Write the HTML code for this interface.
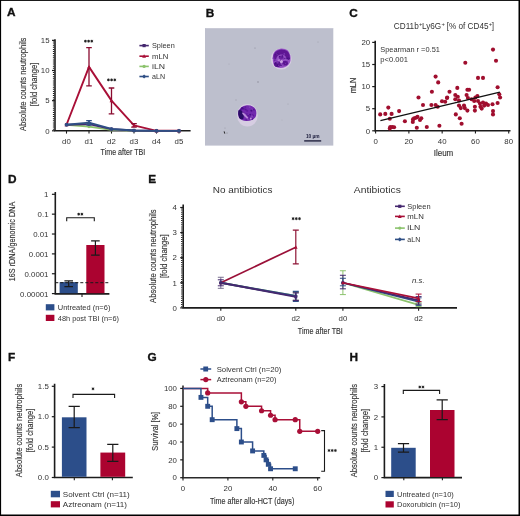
<!DOCTYPE html>
<html><head><meta charset="utf-8"><style>
html,body{margin:0;padding:0;background:#fff;}
svg{display:block;font-family:"Liberation Sans", sans-serif;filter:blur(0.3px);}
</style></head><body>
<svg width="520" height="516" viewBox="0 0 520 516">
<defs><filter id="cb" x="-20%" y="-20%" width="140%" height="140%"><feGaussianBlur stdDeviation="0.55"/></filter></defs>
<rect width="520" height="516" fill="#fff"/>
<text x="7" y="16" font-size="11.8" fill="#111" font-weight="bold" stroke="#111" stroke-width="0.35">A</text>
<line x1="53.55" y1="40.5" x2="53.55" y2="130.8" stroke="#1c1c1c" stroke-width="1.3" stroke-dasharray="1 1.1"/>
<path d="M55,39.3V130.8H190.6" stroke="#1c1c1c" stroke-width="1.6" fill="none" />
<line x1="52" y1="130.8" x2="55" y2="130.8" stroke="#1c1c1c" stroke-width="1.2" />
<text x="49.6" y="133.5" font-size="7.7" fill="#333333" text-anchor="end" textLength="4.37" lengthAdjust="spacingAndGlyphs">0</text>
<line x1="52" y1="100.65" x2="55" y2="100.65" stroke="#1c1c1c" stroke-width="1.2" />
<text x="49.6" y="103.35" font-size="7.7" fill="#333333" text-anchor="end" textLength="4.37" lengthAdjust="spacingAndGlyphs">5</text>
<line x1="52" y1="70.5" x2="55" y2="70.5" stroke="#1c1c1c" stroke-width="1.2" />
<text x="49.6" y="73.2" font-size="7.7" fill="#333333" text-anchor="end" textLength="8.74" lengthAdjust="spacingAndGlyphs">10</text>
<line x1="52" y1="40.35" x2="55" y2="40.35" stroke="#1c1c1c" stroke-width="1.2" />
<text x="49.6" y="43.05" font-size="7.7" fill="#333333" text-anchor="end" textLength="8.74" lengthAdjust="spacingAndGlyphs">15</text>
<line x1="66.5" y1="130.8" x2="66.5" y2="133.6" stroke="#1c1c1c" stroke-width="1.1" />
<text x="66.5" y="143.6" font-size="7.7" fill="#333333" text-anchor="middle" textLength="8.74" lengthAdjust="spacingAndGlyphs">d0</text>
<line x1="89" y1="130.8" x2="89" y2="133.6" stroke="#1c1c1c" stroke-width="1.1" />
<text x="89" y="143.6" font-size="7.7" fill="#333333" text-anchor="middle" textLength="8.74" lengthAdjust="spacingAndGlyphs">d1</text>
<line x1="111.5" y1="130.8" x2="111.5" y2="133.6" stroke="#1c1c1c" stroke-width="1.1" />
<text x="111.5" y="143.6" font-size="7.7" fill="#333333" text-anchor="middle" textLength="8.74" lengthAdjust="spacingAndGlyphs">d2</text>
<line x1="134" y1="130.8" x2="134" y2="133.6" stroke="#1c1c1c" stroke-width="1.1" />
<text x="134" y="143.6" font-size="7.7" fill="#333333" text-anchor="middle" textLength="8.74" lengthAdjust="spacingAndGlyphs">d3</text>
<line x1="156.5" y1="130.8" x2="156.5" y2="133.6" stroke="#1c1c1c" stroke-width="1.1" />
<text x="156.5" y="143.6" font-size="7.7" fill="#333333" text-anchor="middle" textLength="8.74" lengthAdjust="spacingAndGlyphs">d4</text>
<line x1="179" y1="130.8" x2="179" y2="133.6" stroke="#1c1c1c" stroke-width="1.1" />
<text x="179" y="143.6" font-size="7.7" fill="#333333" text-anchor="middle" textLength="8.74" lengthAdjust="spacingAndGlyphs">d5</text>
<text x="122.9" y="155.1" font-size="9.4" fill="#333333" text-anchor="middle" textLength="44.6" lengthAdjust="spacingAndGlyphs" stroke="#333333" stroke-width="0.15">Time after TBI</text>
<text transform="translate(25.8,84.3) rotate(-90)" font-size="9" fill="#333333" text-anchor="middle" textLength="93.4" lengthAdjust="spacingAndGlyphs" stroke="#333333" stroke-width="0.15">Absolute counts neutrophils</text>
<text transform="translate(36.6,84.4) rotate(-90)" font-size="9" fill="#333333" text-anchor="middle" textLength="43.6" lengthAdjust="spacingAndGlyphs" stroke="#333333" stroke-width="0.15">[fold change]</text>
<polyline points="66.5,124.77 89,66.88 111.5,100.65 134,125.37 156.5,130.8 179,130.8" fill="none" stroke="#a90f37" stroke-width="1.9" stroke-linejoin="round"/>
<path d="M86.2,47.59H91.8M89,47.59V85.88M86.2,85.88H91.8" stroke="#8a0c30" stroke-width="1.3" fill="none" />
<path d="M108.7,87.99H114.3M111.5,87.99V113.92M108.7,113.92H114.3" stroke="#8a0c30" stroke-width="1.3" fill="none" />
<path d="M131.2,123.56H136.8M134,123.56V127.18M131.2,127.18H136.8" stroke="#8a0c30" stroke-width="1.3" fill="none" />
<path d="M66.5,122.85L68.42,126.37L64.58,126.37Z" fill="#a90f37"/>
<path d="M89,64.96L90.92,68.48L87.08,68.48Z" fill="#a90f37"/>
<path d="M111.5,98.73L113.42,102.25L109.58,102.25Z" fill="#a90f37"/>
<path d="M134,123.45L135.92,126.97L132.08,126.97Z" fill="#a90f37"/>
<path d="M156.5,128.88L158.42,132.4L154.58,132.4Z" fill="#a90f37"/>
<path d="M179,128.88L180.92,132.4L177.08,132.4Z" fill="#a90f37"/>
<polyline points="66.5,124.77 89,126.58 111.5,129.9 134,130.62 156.5,130.8 179,130.8" fill="none" stroke="#8cc36d" stroke-width="1.8" stroke-linejoin="round"/>
<circle cx="66.5" cy="124.77" r="1.6" fill="#8cc36d" />
<circle cx="89" cy="126.58" r="1.6" fill="#8cc36d" />
<circle cx="111.5" cy="129.9" r="1.6" fill="#8cc36d" />
<circle cx="134" cy="130.62" r="1.6" fill="#8cc36d" />
<circle cx="156.5" cy="130.8" r="1.6" fill="#8cc36d" />
<circle cx="179" cy="130.8" r="1.6" fill="#8cc36d" />
<polyline points="66.5,124.77 89,124.17 111.5,129.11 134,130.5 156.5,130.8 179,130.8" fill="none" stroke="#45286f" stroke-width="1.8" stroke-linejoin="round"/>
<rect x="64.9" y="123.17" width="3.2" height="3.2" fill="#45286f" />
<rect x="87.4" y="122.57" width="3.2" height="3.2" fill="#45286f" />
<rect x="109.9" y="127.51" width="3.2" height="3.2" fill="#45286f" />
<rect x="132.4" y="128.9" width="3.2" height="3.2" fill="#45286f" />
<rect x="154.9" y="129.2" width="3.2" height="3.2" fill="#45286f" />
<rect x="177.4" y="129.2" width="3.2" height="3.2" fill="#45286f" />
<polyline points="66.5,124.77 89,122.66 111.5,128.99 134,130.5 156.5,130.8 179,130.8" fill="none" stroke="#2f4f85" stroke-width="1.8" stroke-linejoin="round"/>
<path d="M86.2,120.67H91.8M89,120.67V124.77M86.2,124.77H91.8" stroke="#2f4f85" stroke-width="1.3" fill="none" />
<path d="M66.5,122.69L68.58,124.77L66.5,126.85L64.42,124.77Z" fill="#2f4f85"/>
<path d="M89,120.58L91.08,122.66L89,124.74L86.92,122.66Z" fill="#2f4f85"/>
<path d="M111.5,126.91L113.58,128.99L111.5,131.07L109.42,128.99Z" fill="#2f4f85"/>
<path d="M134,128.42L136.08,130.5L134,132.58L131.92,130.5Z" fill="#2f4f85"/>
<path d="M156.5,128.72L158.58,130.8L156.5,132.88L154.42,130.8Z" fill="#2f4f85"/>
<path d="M179,128.72L181.08,130.8L179,132.88L176.92,130.8Z" fill="#2f4f85"/>
<path d="M85.4,39.64L85.4,42.76M86.75,40.42L84.05,41.98M86.75,41.98L84.05,40.42" stroke="#222" stroke-width="0.55" fill="none" />
<circle cx="85.4" cy="41.2" r="1.1" fill="#222" />
<path d="M88.6,39.64L88.6,42.76M89.95,40.42L87.25,41.98M89.95,41.98L87.25,40.42" stroke="#222" stroke-width="0.55" fill="none" />
<circle cx="88.6" cy="41.2" r="1.1" fill="#222" />
<path d="M91.8,39.64L91.8,42.76M93.15,40.42L90.45,41.98M93.15,41.98L90.45,40.42" stroke="#222" stroke-width="0.55" fill="none" />
<circle cx="91.8" cy="41.2" r="1.1" fill="#222" />
<path d="M108.4,78.34L108.4,81.46M109.75,79.12L107.05,80.68M109.75,80.68L107.05,79.12" stroke="#222" stroke-width="0.55" fill="none" />
<circle cx="108.4" cy="79.9" r="1.1" fill="#222" />
<path d="M111.6,78.34L111.6,81.46M112.95,79.12L110.25,80.68M112.95,80.68L110.25,79.12" stroke="#222" stroke-width="0.55" fill="none" />
<circle cx="111.6" cy="79.9" r="1.1" fill="#222" />
<path d="M114.8,78.34L114.8,81.46M116.15,79.12L113.45,80.68M116.15,80.68L113.45,79.12" stroke="#222" stroke-width="0.55" fill="none" />
<circle cx="114.8" cy="79.9" r="1.1" fill="#222" />
<line x1="139.4" y1="45.6" x2="148.8" y2="45.6" stroke="#45286f" stroke-width="1.6" />
<rect x="142.5" y="44" width="3.2" height="3.2" fill="#45286f" />
<text x="152" y="47.9" font-size="7.9" fill="#333333" textLength="22.7" lengthAdjust="spacingAndGlyphs">Spleen</text>
<line x1="139.4" y1="56.2" x2="148.8" y2="56.2" stroke="#a90f37" stroke-width="1.6" />
<path d="M144.1,54.28L146.02,57.8L142.18,57.8Z" fill="#a90f37"/>
<text x="152" y="58.5" font-size="7.9" fill="#333333" textLength="16.3" lengthAdjust="spacingAndGlyphs">mLN</text>
<line x1="139.4" y1="66.4" x2="148.8" y2="66.4" stroke="#8cc36d" stroke-width="1.6" />
<circle cx="144.1" cy="66.4" r="1.6" fill="#8cc36d" />
<text x="152" y="68.7" font-size="7.9" fill="#333333" textLength="13" lengthAdjust="spacingAndGlyphs">iLN</text>
<line x1="139.4" y1="76.5" x2="148.8" y2="76.5" stroke="#2f4f85" stroke-width="1.6" />
<path d="M144.1,74.42L146.18,76.5L144.1,78.58L142.02,76.5Z" fill="#2f4f85"/>
<text x="152" y="78.8" font-size="7.9" fill="#333333" textLength="13" lengthAdjust="spacingAndGlyphs">aLN</text>
<text x="205.8" y="16.7" font-size="11.8" fill="#111" font-weight="bold" stroke="#111" stroke-width="0.35">B</text>
<rect x="205" y="28" width="128.3" height="117.6" fill="#bdbfcd" />
<line x1="205.5" y1="28.5" x2="333" y2="28.5" stroke="#c9cad6" stroke-width="1" />
<circle cx="255" cy="48" r="0.6" fill="#8a8a99" />
<circle cx="258" cy="82" r="0.8" fill="#8f8f9e" />
<circle cx="225" cy="128" r="0.6" fill="#9999a8" />
<circle cx="318" cy="42" r="0.5" fill="#9a9aa8" />
<circle cx="288" cy="104" r="0.5" fill="#a0a0ae" />
<circle cx="236" cy="100" r="0.7" fill="#a4a4b2" />
<circle cx="282" cy="120" r="0.6" fill="#b0b0bc" />
<circle cx="229" cy="64" r="0.6" fill="#a8a8b6" />
<path d="M223.6,131.5 l0.9,-0.3 l0.8,2.2 l-0.9,0.4z" fill="#222"/>
<circle cx="227" cy="133" r="0.45" fill="#555" />
<g filter="url(#cb)">
<ellipse cx="281.2" cy="59.0" rx="10.4" ry="10.6" fill="#d8cce4"/>
<path d="M272.8,57 q0.4,-7.4 8.2,-8.4 q8,-0.4 9.4,7 q1,5.6 -1.8,9 q-3,3.4 -7.8,3.4 q-5.4,0 -7.4,-4 q-0.8,-3 -0.6,-7z" fill="#9552c4"/>
<path d="M273.2,58.2 q-0.2,-7.6 7.8,-8.8 q7.6,-0.4 8.8,6.4 q0.4,2.6 -1,3.6 q-1.6,0.2 -2.6,-1.8 q-1.6,-3.4 -5.4,-3 q-3.8,0.6 -4.4,4 q-0.6,1.8 -1.8,1.2z" fill="#5e1994"/>
<ellipse cx="281.2" cy="57.6" rx="2.4" ry="2.0" fill="#6a22a0"/>
<ellipse cx="277.4" cy="64.2" rx="3.3" ry="2.8" fill="#5a1790"/>
<ellipse cx="285.2" cy="63.2" rx="2.8" ry="2.4" fill="#5c1892"/>
<circle cx="275.62" cy="60.32" r="1.05" fill="#7a34b0" />
<circle cx="274.32" cy="60.75" r="0.61" fill="#501388" />
<circle cx="275.16" cy="59.53" r="0.61" fill="#7a34b0" />
<circle cx="280.43" cy="60.82" r="0.99" fill="#501388" />
<circle cx="277.2" cy="54.1" r="0.74" fill="#7a34b0" />
<circle cx="277.73" cy="53.56" r="0.59" fill="#4a0f84" />
<circle cx="282.16" cy="56.89" r="0.52" fill="#4a0f84" />
<circle cx="275.62" cy="54.57" r="0.7" fill="#501388" />
<circle cx="284.28" cy="53.9" r="0.88" fill="#7a34b0" />
<circle cx="283.47" cy="58.67" r="0.89" fill="#7a34b0" />
<circle cx="288.98" cy="58.49" r="1" fill="#501388" />
<circle cx="281.03" cy="65.39" r="0.81" fill="#4a0f84" />
<circle cx="287.37" cy="61.52" r="0.74" fill="#7a34b0" />
<circle cx="275.43" cy="63.59" r="1.01" fill="#4a0f84" />
<circle cx="282.91" cy="65.91" r="0.53" fill="#7a34b0" />
<circle cx="286.08" cy="57.99" r="0.54" fill="#501388" />
<circle cx="283.24" cy="64.68" r="0.7" fill="#7a34b0" />
<circle cx="277.4" cy="65.25" r="0.95" fill="#4a0f84" />
<circle cx="285.55" cy="63.51" r="0.51" fill="#7a34b0" />
<circle cx="282.16" cy="55.45" r="0.84" fill="#7a34b0" />
<circle cx="273.47" cy="58.17" r="0.96" fill="#7a34b0" />
<circle cx="279.55" cy="56.51" r="0.75" fill="#4a0f84" />
<circle cx="288.45" cy="58.62" r="1.08" fill="#501388" />
<circle cx="278.75" cy="65.52" r="0.63" fill="#7a34b0" />
<circle cx="287.25" cy="58.44" r="0.85" fill="#4a0f84" />
<circle cx="284.79" cy="58.36" r="0.65" fill="#501388" />
<circle cx="279.18" cy="62.33" r="0.54" fill="#4a0f84" />
<circle cx="282.8" cy="64.62" r="0.51" fill="#7a34b0" />
<circle cx="277.56" cy="62.39" r="1.08" fill="#7a34b0" />
<circle cx="282.62" cy="56.1" r="0.73" fill="#501388" />
<circle cx="281.4" cy="61.6" r="1.5" fill="#c9a0e0" />
<circle cx="279" cy="60.2" r="0.9" fill="#b683d6" />
<ellipse cx="247.4" cy="115.2" rx="10.4" ry="11.3" fill="#d6cde2"/>
<path d="M238.2,112.6 q1.4,-6.8 8.6,-7.4 q6.4,-0.4 9,4.6 q1.4,4.4 -0.6,7.8 q-3,3.6 -8.6,3.4 q-5.6,-0.4 -7.6,-3.6 q-1.2,-2.2 -0.8,-4.8z" fill="#7229ae"/>
<circle cx="252.07" cy="118.77" r="1.17" fill="#5e1a9c" />
<circle cx="247.09" cy="110.71" r="1.04" fill="#5e1a9c" />
<circle cx="245.61" cy="109.47" r="0.94" fill="#561694" />
<circle cx="245.25" cy="114.44" r="0.63" fill="#4a1088" />
<circle cx="248.11" cy="119.13" r="0.78" fill="#8040b8" />
<circle cx="246.67" cy="116.16" r="1.1" fill="#561694" />
<circle cx="251.62" cy="116.78" r="1.06" fill="#561694" />
<circle cx="246.1" cy="119.83" r="0.74" fill="#561694" />
<circle cx="252.42" cy="115.25" r="0.77" fill="#561694" />
<circle cx="249.85" cy="117.12" r="1" fill="#5e1a9c" />
<circle cx="250.18" cy="114.79" r="0.92" fill="#4a1088" />
<circle cx="243.8" cy="108.66" r="1.01" fill="#5e1a9c" />
<circle cx="240.88" cy="109.88" r="0.93" fill="#4a1088" />
<circle cx="245.14" cy="107" r="0.61" fill="#561694" />
<circle cx="240.57" cy="114.05" r="0.82" fill="#561694" />
<circle cx="253.05" cy="115.7" r="1.12" fill="#5e1a9c" />
<circle cx="249.73" cy="107.1" r="0.85" fill="#8040b8" />
<circle cx="253.88" cy="109.67" r="0.89" fill="#561694" />
<circle cx="251.7" cy="109.48" r="1.04" fill="#8040b8" />
<circle cx="246.93" cy="113.93" r="0.65" fill="#561694" />
<circle cx="242.32" cy="108.16" r="1.22" fill="#4a1088" />
<circle cx="242.17" cy="117.18" r="1.01" fill="#8040b8" />
<circle cx="241.68" cy="114.57" r="0.96" fill="#561694" />
<circle cx="246.69" cy="115.28" r="0.62" fill="#561694" />
<circle cx="241.11" cy="113.49" r="1.24" fill="#4a1088" />
<circle cx="251.6" cy="110.89" r="0.7" fill="#5e1a9c" />
<circle cx="240.46" cy="112.72" r="0.84" fill="#8040b8" />
<circle cx="243.53" cy="113.44" r="0.88" fill="#4a1088" />
<circle cx="249.33" cy="117.66" r="1.16" fill="#5e1a9c" />
<circle cx="251.35" cy="110.5" r="1.01" fill="#4a1088" />
<circle cx="248.36" cy="115.83" r="0.85" fill="#561694" />
<circle cx="245.65" cy="106.93" r="0.79" fill="#5e1a9c" />
<circle cx="251.91" cy="116.46" r="1.25" fill="#8040b8" />
<circle cx="243.18" cy="116.72" r="1.07" fill="#8040b8" />
<path d="M238.3,110.4 q2.4,-1 4.2,1.4 q2.2,3.2 0.8,7 q-2.6,1.4 -4.2,-1 q-1.4,-3.6 -0.8,-7.4z" fill="#2a0c66"/>
<path d="M242.6,112.2 q3.6,1.5 5.8,5.6 l-1.3,1 q-3,-2.6 -5,-5.4z" fill="#b98bd9"/>
<circle cx="250.8" cy="118.4" r="1" fill="#c090dc" />
</g>
<text x="312.8" y="137.6" font-size="4.8" fill="#1a1a3a" text-anchor="middle" font-weight="bold">10 µm</text>
<line x1="304.2" y1="140.9" x2="321.2" y2="140.9" stroke="#22223f" stroke-width="1.4" />
<text x="349.3" y="16.8" font-size="11.8" fill="#111" font-weight="bold" stroke="#111" stroke-width="0.35">C</text>
<text x="393.8" y="29.2" font-size="8.4" fill="#333333" textLength="24.89" lengthAdjust="spacingAndGlyphs">CD11b</text>
<text x="418.89" y="26.2" font-size="5.8" fill="#333333">+</text>
<text x="421.9" y="29.2" font-size="8.4" fill="#333333" textLength="19.27" lengthAdjust="spacingAndGlyphs">Ly6G</text>
<text x="441.38" y="26.2" font-size="5.8" fill="#333333">+</text>
<text x="444.39" y="29.2" font-size="8.4" fill="#333333" textLength="44.15" lengthAdjust="spacingAndGlyphs">&#160;[% of CD45</text>
<text x="488.75" y="26.2" font-size="5.8" fill="#333333">+</text>
<text x="491.76" y="29.2" font-size="8.4" fill="#333333" textLength="2.28" lengthAdjust="spacingAndGlyphs">]</text>
<path d="M375.2,40.8V130.8H510.5" stroke="#1c1c1c" stroke-width="1.6" fill="none" />
<line x1="372.2" y1="130.8" x2="375.2" y2="130.8" stroke="#1c1c1c" stroke-width="1.2" />
<text x="370.2" y="133.5" font-size="7.7" fill="#333333" text-anchor="end" textLength="4.37" lengthAdjust="spacingAndGlyphs">0</text>
<line x1="372.2" y1="108.7" x2="375.2" y2="108.7" stroke="#1c1c1c" stroke-width="1.2" />
<text x="370.2" y="111.4" font-size="7.7" fill="#333333" text-anchor="end" textLength="4.37" lengthAdjust="spacingAndGlyphs">5</text>
<line x1="372.2" y1="86.6" x2="375.2" y2="86.6" stroke="#1c1c1c" stroke-width="1.2" />
<text x="370.2" y="89.3" font-size="7.7" fill="#333333" text-anchor="end" textLength="8.74" lengthAdjust="spacingAndGlyphs">10</text>
<line x1="372.2" y1="64.5" x2="375.2" y2="64.5" stroke="#1c1c1c" stroke-width="1.2" />
<text x="370.2" y="67.2" font-size="7.7" fill="#333333" text-anchor="end" textLength="8.74" lengthAdjust="spacingAndGlyphs">15</text>
<line x1="372.2" y1="42.4" x2="375.2" y2="42.4" stroke="#1c1c1c" stroke-width="1.2" />
<text x="370.2" y="45.1" font-size="7.7" fill="#333333" text-anchor="end" textLength="8.74" lengthAdjust="spacingAndGlyphs">20</text>
<line x1="375.6" y1="130.8" x2="375.6" y2="133.6" stroke="#1c1c1c" stroke-width="1.1" />
<text x="375.6" y="143.5" font-size="7.7" fill="#333333" text-anchor="middle" textLength="4.37" lengthAdjust="spacingAndGlyphs">0</text>
<line x1="408.88" y1="130.8" x2="408.88" y2="133.6" stroke="#1c1c1c" stroke-width="1.1" />
<text x="408.88" y="143.5" font-size="7.7" fill="#333333" text-anchor="middle" textLength="8.74" lengthAdjust="spacingAndGlyphs">20</text>
<line x1="442.16" y1="130.8" x2="442.16" y2="133.6" stroke="#1c1c1c" stroke-width="1.1" />
<text x="442.16" y="143.5" font-size="7.7" fill="#333333" text-anchor="middle" textLength="8.74" lengthAdjust="spacingAndGlyphs">40</text>
<line x1="475.44" y1="130.8" x2="475.44" y2="133.6" stroke="#1c1c1c" stroke-width="1.1" />
<text x="475.44" y="143.5" font-size="7.7" fill="#333333" text-anchor="middle" textLength="8.74" lengthAdjust="spacingAndGlyphs">60</text>
<line x1="508.72" y1="130.8" x2="508.72" y2="133.6" stroke="#1c1c1c" stroke-width="1.1" />
<text x="508.72" y="143.5" font-size="7.7" fill="#333333" text-anchor="middle" textLength="8.74" lengthAdjust="spacingAndGlyphs">80</text>
<text transform="translate(355.9,85.5) rotate(-90)" font-size="9.4" fill="#333333" text-anchor="middle" textLength="15.6" lengthAdjust="spacingAndGlyphs" stroke="#333333" stroke-width="0.15">mLN</text>
<text x="443.5" y="155.6" font-size="9.4" fill="#333333" text-anchor="middle" textLength="19.6" lengthAdjust="spacingAndGlyphs" stroke="#333333" stroke-width="0.15">Ileum</text>
<text x="380.3" y="52.3" font-size="7.4" fill="#333333" textLength="59.6" lengthAdjust="spacingAndGlyphs">Spearman r =0.51</text>
<text x="380.3" y="62.1" font-size="7.4" fill="#333333" textLength="27.6" lengthAdjust="spacingAndGlyphs">p&lt;0.001</text>
<circle cx="380.2" cy="114.4" r="2.05" fill="#a00e2e" />
<circle cx="385.3" cy="113.9" r="2.05" fill="#a00e2e" />
<circle cx="388.3" cy="107.6" r="2.05" fill="#a00e2e" />
<circle cx="391.6" cy="113.9" r="2.05" fill="#a00e2e" />
<circle cx="389.8" cy="118.7" r="2.05" fill="#a00e2e" />
<circle cx="399.1" cy="111.1" r="2.05" fill="#a00e2e" />
<circle cx="390.3" cy="127" r="2.05" fill="#a00e2e" />
<circle cx="392.3" cy="127" r="2.05" fill="#a00e2e" />
<circle cx="394.1" cy="127.2" r="2.05" fill="#a00e2e" />
<circle cx="389.8" cy="128.4" r="2.05" fill="#a00e2e" />
<circle cx="404.9" cy="121.2" r="2.05" fill="#a00e2e" />
<circle cx="413" cy="119.4" r="2.05" fill="#a00e2e" />
<circle cx="414.2" cy="118.2" r="2.05" fill="#a00e2e" />
<circle cx="416" cy="117.7" r="2.05" fill="#a00e2e" />
<circle cx="417.5" cy="116.9" r="2.05" fill="#a00e2e" />
<circle cx="420" cy="120" r="2.05" fill="#a00e2e" />
<circle cx="416.8" cy="127.7" r="2.05" fill="#a00e2e" />
<circle cx="418.5" cy="97.5" r="2.05" fill="#a00e2e" />
<circle cx="423" cy="105" r="2.05" fill="#a00e2e" />
<circle cx="426.8" cy="127" r="2.05" fill="#a00e2e" />
<circle cx="431.9" cy="91.7" r="2.05" fill="#a00e2e" />
<circle cx="431.4" cy="105" r="2.05" fill="#a00e2e" />
<circle cx="435.6" cy="76.6" r="2.05" fill="#a00e2e" />
<circle cx="438.2" cy="82.4" r="2.05" fill="#a00e2e" />
<circle cx="435.6" cy="105" r="2.05" fill="#a00e2e" />
<circle cx="437.7" cy="106.8" r="2.05" fill="#a00e2e" />
<circle cx="439.4" cy="125.7" r="2.05" fill="#a00e2e" />
<circle cx="442" cy="101.3" r="2.05" fill="#a00e2e" />
<circle cx="445.2" cy="101.8" r="2.05" fill="#a00e2e" />
<circle cx="447" cy="98" r="2.05" fill="#a00e2e" />
<circle cx="449.5" cy="91.7" r="2.05" fill="#a00e2e" />
<circle cx="493" cy="49.6" r="2.05" fill="#a00e2e" />
<circle cx="496" cy="60.7" r="2.05" fill="#a00e2e" />
<circle cx="465.3" cy="62.7" r="2.05" fill="#a00e2e" />
<circle cx="478" cy="77.9" r="2.05" fill="#a00e2e" />
<circle cx="483" cy="77.9" r="2.05" fill="#a00e2e" />
<circle cx="497.6" cy="87.2" r="2.05" fill="#a00e2e" />
<circle cx="467.4" cy="89.7" r="2.05" fill="#a00e2e" />
<circle cx="469.1" cy="89.7" r="2.05" fill="#a00e2e" />
<circle cx="457.3" cy="87.9" r="2.05" fill="#a00e2e" />
<circle cx="455.3" cy="95" r="2.05" fill="#a00e2e" />
<circle cx="457.8" cy="96.8" r="2.05" fill="#a00e2e" />
<circle cx="455.3" cy="99.3" r="2.05" fill="#a00e2e" />
<circle cx="459" cy="100.5" r="2.05" fill="#a00e2e" />
<circle cx="466.6" cy="95" r="2.05" fill="#a00e2e" />
<circle cx="467.9" cy="98" r="2.05" fill="#a00e2e" />
<circle cx="471.6" cy="99.3" r="2.05" fill="#a00e2e" />
<circle cx="475.4" cy="97.5" r="2.05" fill="#a00e2e" />
<circle cx="477.4" cy="96" r="2.05" fill="#a00e2e" />
<circle cx="474.2" cy="101" r="2.05" fill="#a00e2e" />
<circle cx="478" cy="101" r="2.05" fill="#a00e2e" />
<circle cx="480" cy="103.5" r="2.05" fill="#a00e2e" />
<circle cx="483" cy="102.5" r="2.05" fill="#a00e2e" />
<circle cx="486" cy="103.5" r="2.05" fill="#a00e2e" />
<circle cx="488" cy="105" r="2.05" fill="#a00e2e" />
<circle cx="492.5" cy="104.3" r="2.05" fill="#a00e2e" />
<circle cx="497.6" cy="103" r="2.05" fill="#a00e2e" />
<circle cx="500.1" cy="97.5" r="2.05" fill="#a00e2e" />
<circle cx="499.3" cy="94.2" r="2.05" fill="#a00e2e" />
<circle cx="447.2" cy="97.5" r="2.05" fill="#a00e2e" />
<circle cx="459" cy="105.6" r="2.05" fill="#a00e2e" />
<circle cx="460.8" cy="108.1" r="2.05" fill="#a00e2e" />
<circle cx="464" cy="105.6" r="2.05" fill="#a00e2e" />
<circle cx="464.8" cy="108.1" r="2.05" fill="#a00e2e" />
<circle cx="467.4" cy="110.6" r="2.05" fill="#a00e2e" />
<circle cx="474.9" cy="106.8" r="2.05" fill="#a00e2e" />
<circle cx="474.9" cy="110.6" r="2.05" fill="#a00e2e" />
<circle cx="480.5" cy="106.8" r="2.05" fill="#a00e2e" />
<circle cx="481.7" cy="108.6" r="2.05" fill="#a00e2e" />
<circle cx="484.2" cy="105.6" r="2.05" fill="#a00e2e" />
<circle cx="493" cy="111.1" r="2.05" fill="#a00e2e" />
<circle cx="493" cy="114.4" r="2.05" fill="#a00e2e" />
<circle cx="455.8" cy="114.4" r="2.05" fill="#a00e2e" />
<circle cx="459.8" cy="118.2" r="2.05" fill="#a00e2e" />
<circle cx="461.6" cy="123.7" r="2.05" fill="#a00e2e" />
<circle cx="421.3" cy="118.2" r="2.05" fill="#a00e2e" />
<circle cx="412.8" cy="122" r="2.05" fill="#a00e2e" />
<line x1="380.4" y1="120.6" x2="499.9" y2="92.1" stroke="#111" stroke-width="1.3" />
<text x="8.1" y="182.5" font-size="11.8" fill="#111" font-weight="bold" stroke="#111" stroke-width="0.35">D</text>
<path d="M55.3,192V293.9H109.4" stroke="#1c1c1c" stroke-width="1.6" fill="none" />
<line x1="51.9" y1="194.3" x2="55.3" y2="194.3" stroke="#1c1c1c" stroke-width="1.2" />
<text x="48.5" y="197.2" font-size="7.7" fill="#333333" text-anchor="end" textLength="4.37" lengthAdjust="spacingAndGlyphs">1</text>
<line x1="51.9" y1="214.16" x2="55.3" y2="214.16" stroke="#1c1c1c" stroke-width="1.2" />
<text x="48.5" y="217.06" font-size="7.7" fill="#333333" text-anchor="end" textLength="10.92" lengthAdjust="spacingAndGlyphs">0.1</text>
<line x1="51.9" y1="234.02" x2="55.3" y2="234.02" stroke="#1c1c1c" stroke-width="1.2" />
<text x="48.5" y="236.92" font-size="7.7" fill="#333333" text-anchor="end" textLength="15.29" lengthAdjust="spacingAndGlyphs">0.01</text>
<line x1="51.9" y1="253.88" x2="55.3" y2="253.88" stroke="#1c1c1c" stroke-width="1.2" />
<text x="48.5" y="256.78" font-size="7.7" fill="#333333" text-anchor="end" textLength="19.65" lengthAdjust="spacingAndGlyphs">0.001</text>
<line x1="51.9" y1="273.74" x2="55.3" y2="273.74" stroke="#1c1c1c" stroke-width="1.2" />
<text x="48.5" y="276.64" font-size="7.7" fill="#333333" text-anchor="end" textLength="24.02" lengthAdjust="spacingAndGlyphs">0.0001</text>
<line x1="51.9" y1="293.6" x2="55.3" y2="293.6" stroke="#1c1c1c" stroke-width="1.2" />
<text x="48.5" y="296.5" font-size="7.7" fill="#333333" text-anchor="end" textLength="28.39" lengthAdjust="spacingAndGlyphs">0.00001</text>
<rect x="59.6" y="282.1" width="18.2" height="11.1" fill="#2c4e8a" />
<rect x="86.3" y="245" width="18.2" height="48.2" fill="#ab0330" />
<path d="M91.1,240.8H99.7M95.4,240.8V255.2M91.1,255.2H99.7" stroke="#1a1a1a" stroke-width="1.2" fill="none" />
<path d="M64.4,280.9H73M68.7,280.9V286.6M64.4,286.6H73" stroke="#1a1a1a" stroke-width="1.2" fill="none" />
<line x1="55.3" y1="282.7" x2="108.5" y2="282.7" stroke="#1a1a1a" stroke-width="1" stroke-dasharray="3 2"/>
<line x1="82" y1="293.9" x2="82" y2="297" stroke="#1c1c1c" stroke-width="1.1" />
<path d="M66.7,221.2V217.7H94.3V221.2" stroke="#1a1a1a" stroke-width="1.1" fill="none" />
<path d="M78.7,212.64L78.7,215.76M80.05,213.42L77.35,214.98M80.05,214.98L77.35,213.42" stroke="#222" stroke-width="0.55" fill="none" />
<circle cx="78.7" cy="214.2" r="1.1" fill="#222" />
<path d="M81.9,212.64L81.9,215.76M83.25,213.42L80.55,214.98M83.25,214.98L80.55,213.42" stroke="#222" stroke-width="0.55" fill="none" />
<circle cx="81.9" cy="214.2" r="1.1" fill="#222" />
<text transform="translate(15.1,241.5) rotate(-90)" font-size="9" fill="#333333" text-anchor="middle" textLength="79.7" lengthAdjust="spacingAndGlyphs" stroke="#333333" stroke-width="0.15">16S rDNA/genomic DNA</text>
<rect x="45.8" y="304.2" width="8.6" height="6.2" fill="#2c4e8a" />
<rect x="45.8" y="314.8" width="8.6" height="6.2" fill="#ab0330" />
<text x="57.8" y="309.9" font-size="7.4" fill="#333333" textLength="52.6" lengthAdjust="spacingAndGlyphs">Untreated (n=6)</text>
<text x="57.8" y="320.5" font-size="7.4" fill="#333333" textLength="61.2" lengthAdjust="spacingAndGlyphs">48h post TBI (n=6)</text>
<text x="148.3" y="182.7" font-size="11.8" fill="#111" font-weight="bold" stroke="#111" stroke-width="0.35">E</text>
<text x="242.6" y="193" font-size="9.8" fill="#333333" text-anchor="middle" textLength="59.6" lengthAdjust="spacingAndGlyphs">No antibiotics</text>
<text x="377.3" y="193" font-size="9.8" fill="#333333" text-anchor="middle" textLength="47" lengthAdjust="spacingAndGlyphs">Antibiotics</text>
<line x1="181.75" y1="207.5" x2="181.75" y2="307.9" stroke="#1c1c1c" stroke-width="1.3" stroke-dasharray="1 1.1"/>
<path d="M183.2,204.6V307.9H457" stroke="#1c1c1c" stroke-width="1.6" fill="none" />
<line x1="180.2" y1="307.9" x2="183.2" y2="307.9" stroke="#1c1c1c" stroke-width="1.2" />
<text x="177" y="310.6" font-size="7.7" fill="#333333" text-anchor="end" textLength="4.37" lengthAdjust="spacingAndGlyphs">0</text>
<line x1="180.2" y1="282.8" x2="183.2" y2="282.8" stroke="#1c1c1c" stroke-width="1.2" />
<text x="177" y="285.5" font-size="7.7" fill="#333333" text-anchor="end" textLength="4.37" lengthAdjust="spacingAndGlyphs">1</text>
<line x1="180.2" y1="257.7" x2="183.2" y2="257.7" stroke="#1c1c1c" stroke-width="1.2" />
<text x="177" y="260.4" font-size="7.7" fill="#333333" text-anchor="end" textLength="4.37" lengthAdjust="spacingAndGlyphs">2</text>
<line x1="180.2" y1="232.6" x2="183.2" y2="232.6" stroke="#1c1c1c" stroke-width="1.2" />
<text x="177" y="235.3" font-size="7.7" fill="#333333" text-anchor="end" textLength="4.37" lengthAdjust="spacingAndGlyphs">3</text>
<line x1="180.2" y1="207.5" x2="183.2" y2="207.5" stroke="#1c1c1c" stroke-width="1.2" />
<text x="177" y="210.2" font-size="7.7" fill="#333333" text-anchor="end" textLength="4.37" lengthAdjust="spacingAndGlyphs">4</text>
<line x1="220.8" y1="307.9" x2="220.8" y2="310.7" stroke="#1c1c1c" stroke-width="1.1" />
<text x="220.8" y="320.6" font-size="7.7" fill="#333333" text-anchor="middle" textLength="8.74" lengthAdjust="spacingAndGlyphs">d0</text>
<line x1="295.8" y1="307.9" x2="295.8" y2="310.7" stroke="#1c1c1c" stroke-width="1.1" />
<text x="295.8" y="320.6" font-size="7.7" fill="#333333" text-anchor="middle" textLength="8.74" lengthAdjust="spacingAndGlyphs">d2</text>
<line x1="342.9" y1="307.9" x2="342.9" y2="310.7" stroke="#1c1c1c" stroke-width="1.1" />
<text x="342.9" y="320.6" font-size="7.7" fill="#333333" text-anchor="middle" textLength="8.74" lengthAdjust="spacingAndGlyphs">d0</text>
<line x1="418.6" y1="307.9" x2="418.6" y2="310.7" stroke="#1c1c1c" stroke-width="1.1" />
<text x="418.6" y="320.6" font-size="7.7" fill="#333333" text-anchor="middle" textLength="8.74" lengthAdjust="spacingAndGlyphs">d2</text>
<text x="320.3" y="334.2" font-size="9.4" fill="#333333" text-anchor="middle" textLength="45" lengthAdjust="spacingAndGlyphs" stroke="#333333" stroke-width="0.15">Time after TBI</text>
<text transform="translate(155.9,256.2) rotate(-90)" font-size="9" fill="#333333" text-anchor="middle" textLength="93.4" lengthAdjust="spacingAndGlyphs" stroke="#333333" stroke-width="0.15">Absolute counts neutrophils</text>
<text transform="translate(167,256.2) rotate(-90)" font-size="9" fill="#333333" text-anchor="middle" textLength="43.6" lengthAdjust="spacingAndGlyphs" stroke="#333333" stroke-width="0.15">[fold change]</text>
<path d="M217.8,277.28H223.8M220.8,277.28V288.32M217.8,288.32H223.8" stroke="#7a7090" stroke-width="1" fill="none" />
<path d="M217.8,279.79H223.8M220.8,279.79V285.81M217.8,285.81H223.8" stroke="#45286f" stroke-width="1" fill="none" />
<line x1="220.8" y1="282.8" x2="295.8" y2="296.1" stroke="#8cc36d" stroke-width="2" />
<path d="M292.8,292.34H298.8M295.8,292.34V300.37M292.8,300.37H298.8" stroke="#8cc36d" stroke-width="1.2" fill="none" />
<circle cx="220.8" cy="282.8" r="1.5" fill="#8cc36d" />
<circle cx="295.8" cy="296.1" r="1.5" fill="#8cc36d" />
<line x1="220.8" y1="282.8" x2="295.8" y2="247.16" stroke="#9a1038" stroke-width="1.7" />
<path d="M292.8,230.09H298.8M295.8,230.09V263.97M292.8,263.97H298.8" stroke="#8e1436" stroke-width="1.2" fill="none" />
<path d="M220.8,281L222.6,284.3L219,284.3Z" fill="#a90f37"/>
<path d="M295.8,245.36L297.6,248.66L294,248.66Z" fill="#a90f37"/>
<line x1="220.8" y1="282.8" x2="295.8" y2="296.1" stroke="#2f4f85" stroke-width="2" />
<path d="M292.8,291.33H298.8M295.8,291.33V301.37M292.8,301.37H298.8" stroke="#2f4f85" stroke-width="1.2" fill="none" />
<path d="M220.8,280.85L222.75,282.8L220.8,284.75L218.85,282.8Z" fill="#2f4f85"/>
<path d="M295.8,294.15L297.75,296.1L295.8,298.05L293.85,296.1Z" fill="#2f4f85"/>
<line x1="220.8" y1="282.8" x2="295.8" y2="296.86" stroke="#45286f" stroke-width="2" />
<path d="M292.8,292.84H298.8M295.8,292.84V300.37M292.8,300.37H298.8" stroke="#45286f" stroke-width="1.2" fill="none" />
<rect x="219.3" y="281.3" width="3" height="3" fill="#45286f" />
<rect x="294.3" y="295.36" width="3" height="3" fill="#45286f" />
<path d="M293.1,217.14L293.1,220.26M294.45,217.92L291.75,219.48M294.45,219.48L291.75,217.92" stroke="#222" stroke-width="0.55" fill="none" />
<circle cx="293.1" cy="218.7" r="1.1" fill="#222" />
<path d="M296.3,217.14L296.3,220.26M297.65,217.92L294.95,219.48M297.65,219.48L294.95,217.92" stroke="#222" stroke-width="0.55" fill="none" />
<circle cx="296.3" cy="218.7" r="1.1" fill="#222" />
<path d="M299.5,217.14L299.5,220.26M300.85,217.92L298.15,219.48M300.85,219.48L298.15,217.92" stroke="#222" stroke-width="0.55" fill="none" />
<circle cx="299.5" cy="218.7" r="1.1" fill="#222" />
<path d="M339.9,270.75H345.9M342.9,270.75V294.6M339.9,294.6H345.9" stroke="#8cc36d" stroke-width="1" fill="none" />
<path d="M339.9,275.27H345.9M342.9,275.27V288.82M339.9,288.82H345.9" stroke="#45286f" stroke-width="1" fill="none" />
<path d="M339.9,278.28H345.9M342.9,278.28V285.81M339.9,285.81H345.9" stroke="#2f4f85" stroke-width="1" fill="none" />
<line x1="342.9" y1="282.8" x2="418.6" y2="304.89" stroke="#8cc36d" stroke-width="1.6" />
<path d="M415.6,302.88H421.6M418.6,302.88V306.64M415.6,306.64H421.6" stroke="#8cc36d" stroke-width="1" fill="none" />
<circle cx="342.9" cy="282.8" r="1.5" fill="#8cc36d" />
<circle cx="418.6" cy="304.89" r="1.5" fill="#8cc36d" />
<line x1="342.9" y1="282.8" x2="418.6" y2="301.62" stroke="#2f4f85" stroke-width="1.6" />
<path d="M415.6,297.86H421.6M418.6,297.86V305.39M415.6,305.39H421.6" stroke="#2f4f85" stroke-width="1" fill="none" />
<path d="M342.9,280.85L344.85,282.8L342.9,284.75L340.95,282.8Z" fill="#2f4f85"/>
<path d="M418.6,299.68L420.55,301.62L418.6,303.57L416.65,301.62Z" fill="#2f4f85"/>
<line x1="342.9" y1="282.8" x2="418.6" y2="300.37" stroke="#45286f" stroke-width="1.6" />
<path d="M415.6,296.6H421.6M418.6,296.6V304.13M415.6,304.13H421.6" stroke="#45286f" stroke-width="1" fill="none" />
<rect x="341.4" y="281.3" width="3" height="3" fill="#45286f" />
<rect x="417.1" y="298.87" width="3" height="3" fill="#45286f" />
<line x1="342.9" y1="282.8" x2="418.6" y2="298.36" stroke="#a90f37" stroke-width="1.6" />
<path d="M415.6,294.09H421.6M418.6,294.09V301.62M415.6,301.62H421.6" stroke="#a90f37" stroke-width="1" fill="none" />
<path d="M342.9,281L344.7,284.3L341.1,284.3Z" fill="#a90f37"/>
<path d="M418.6,296.56L420.4,299.86L416.8,299.86Z" fill="#a90f37"/>
<text x="418.3" y="283.3" font-size="7.8" fill="#333333" text-anchor="middle" font-style="italic">n.s.</text>
<line x1="395" y1="206.3" x2="404.8" y2="206.3" stroke="#45286f" stroke-width="1.6" />
<rect x="398.2" y="204.7" width="3.2" height="3.2" fill="#45286f" />
<text x="407.3" y="208.6" font-size="7.9" fill="#333333" textLength="23.3" lengthAdjust="spacingAndGlyphs">Spleen</text>
<line x1="395" y1="216.4" x2="404.8" y2="216.4" stroke="#a90f37" stroke-width="1.6" />
<path d="M399.8,214.48L401.72,218L397.88,218Z" fill="#a90f37"/>
<text x="407.3" y="218.7" font-size="7.9" fill="#333333" textLength="16.5" lengthAdjust="spacingAndGlyphs">mLN</text>
<line x1="395" y1="228.1" x2="404.8" y2="228.1" stroke="#8cc36d" stroke-width="1.6" />
<circle cx="399.8" cy="228.1" r="1.6" fill="#8cc36d" />
<text x="407.3" y="230.4" font-size="7.9" fill="#333333" textLength="13" lengthAdjust="spacingAndGlyphs">iLN</text>
<line x1="395" y1="239.4" x2="404.8" y2="239.4" stroke="#2f4f85" stroke-width="1.6" />
<path d="M399.8,237.32L401.88,239.4L399.8,241.48L397.72,239.4Z" fill="#2f4f85"/>
<text x="407.3" y="241.7" font-size="7.9" fill="#333333" textLength="13" lengthAdjust="spacingAndGlyphs">aLN</text>
<text x="8.1" y="360.8" font-size="11.8" fill="#111" font-weight="bold" stroke="#111" stroke-width="0.35">F</text>
<path d="M54.6,383.8V477.5H132.8" stroke="#1c1c1c" stroke-width="1.6" fill="none" />
<line x1="51.8" y1="477.5" x2="54.6" y2="477.5" stroke="#1c1c1c" stroke-width="1.2" />
<text x="48.8" y="480.2" font-size="7.7" fill="#333333" text-anchor="end" textLength="10.92" lengthAdjust="spacingAndGlyphs">0.0</text>
<line x1="51.8" y1="447.1" x2="54.6" y2="447.1" stroke="#1c1c1c" stroke-width="1.2" />
<text x="48.8" y="449.8" font-size="7.7" fill="#333333" text-anchor="end" textLength="10.92" lengthAdjust="spacingAndGlyphs">0.5</text>
<line x1="51.8" y1="416.7" x2="54.6" y2="416.7" stroke="#1c1c1c" stroke-width="1.2" />
<text x="48.8" y="419.4" font-size="7.7" fill="#333333" text-anchor="end" textLength="10.92" lengthAdjust="spacingAndGlyphs">1.0</text>
<line x1="51.8" y1="386.3" x2="54.6" y2="386.3" stroke="#1c1c1c" stroke-width="1.2" />
<text x="48.8" y="389" font-size="7.7" fill="#333333" text-anchor="end" textLength="10.92" lengthAdjust="spacingAndGlyphs">1.5</text>
<rect x="61.9" y="417.31" width="24.6" height="59.49" fill="#2c4e8a" />
<rect x="100.4" y="452.57" width="24.8" height="24.23" fill="#ab0330" />
<path d="M68.6,406.3H79.8M74.2,406.3V427.6M68.6,427.6H79.8" stroke="#1a1a1a" stroke-width="1.2" fill="none" />
<path d="M107.2,444.3H118.4M112.8,444.3V461.3M107.2,461.3H118.4" stroke="#1a1a1a" stroke-width="1.2" fill="none" />
<line x1="74.3" y1="477.5" x2="74.3" y2="480.2" stroke="#1c1c1c" stroke-width="1.1" />
<line x1="112.4" y1="477.5" x2="112.4" y2="480.2" stroke="#1c1c1c" stroke-width="1.1" />
<path d="M73,398.1V394.4H114.6V398.1" stroke="#1a1a1a" stroke-width="1.1" fill="none" />
<path d="M93,387.24L93,390.36M94.35,388.02L91.65,389.58M94.35,389.58L91.65,388.02" stroke="#222" stroke-width="0.55" fill="none" />
<circle cx="93" cy="388.8" r="1.1" fill="#222" />
<text transform="translate(21.8,430.5) rotate(-90)" font-size="9" fill="#333333" text-anchor="middle" textLength="93.4" lengthAdjust="spacingAndGlyphs" stroke="#333333" stroke-width="0.15">Absolute counts neutrophils</text>
<text transform="translate(33.1,430.5) rotate(-90)" font-size="9" fill="#333333" text-anchor="middle" textLength="43.6" lengthAdjust="spacingAndGlyphs" stroke="#333333" stroke-width="0.15">[fold change]</text>
<rect x="50.8" y="490.8" width="9.2" height="6.5" fill="#2c4e8a" />
<rect x="50.8" y="501.2" width="9.2" height="6.2" fill="#ab0330" />
<text x="62.8" y="497" font-size="7.4" fill="#333333" textLength="67" lengthAdjust="spacingAndGlyphs">Solvent Ctrl (n=11)</text>
<text x="62.8" y="507" font-size="7.4" fill="#333333" textLength="64.2" lengthAdjust="spacingAndGlyphs">Aztreonam (n=11)</text>
<text x="147.6" y="361" font-size="11.8" fill="#111" font-weight="bold" stroke="#111" stroke-width="0.35">G</text>
<path d="M183,385.4V477.7H320.2" stroke="#2a2a2a" stroke-width="1.6" fill="none" />
<line x1="180.2" y1="477.7" x2="183" y2="477.7" stroke="#1c1c1c" stroke-width="1.2" />
<text x="177" y="480.4" font-size="7.7" fill="#333333" text-anchor="end" textLength="4.37" lengthAdjust="spacingAndGlyphs">0</text>
<line x1="180.2" y1="459.85" x2="183" y2="459.85" stroke="#1c1c1c" stroke-width="1.2" />
<text x="177" y="462.55" font-size="7.7" fill="#333333" text-anchor="end" textLength="8.74" lengthAdjust="spacingAndGlyphs">20</text>
<line x1="180.2" y1="442" x2="183" y2="442" stroke="#1c1c1c" stroke-width="1.2" />
<text x="177" y="444.7" font-size="7.7" fill="#333333" text-anchor="end" textLength="8.74" lengthAdjust="spacingAndGlyphs">40</text>
<line x1="180.2" y1="424.15" x2="183" y2="424.15" stroke="#1c1c1c" stroke-width="1.2" />
<text x="177" y="426.85" font-size="7.7" fill="#333333" text-anchor="end" textLength="8.74" lengthAdjust="spacingAndGlyphs">60</text>
<line x1="180.2" y1="406.3" x2="183" y2="406.3" stroke="#1c1c1c" stroke-width="1.2" />
<text x="177" y="409" font-size="7.7" fill="#333333" text-anchor="end" textLength="8.74" lengthAdjust="spacingAndGlyphs">80</text>
<line x1="180.2" y1="388.45" x2="183" y2="388.45" stroke="#1c1c1c" stroke-width="1.2" />
<text x="177" y="391.15" font-size="7.7" fill="#333333" text-anchor="end" textLength="13.1" lengthAdjust="spacingAndGlyphs">100</text>
<line x1="183" y1="477.7" x2="183" y2="480.4" stroke="#1c1c1c" stroke-width="1.1" />
<text x="183" y="490.6" font-size="7.7" fill="#333333" text-anchor="middle" textLength="4.37" lengthAdjust="spacingAndGlyphs">0</text>
<line x1="227.9" y1="477.7" x2="227.9" y2="480.4" stroke="#1c1c1c" stroke-width="1.1" />
<text x="227.9" y="490.6" font-size="7.7" fill="#333333" text-anchor="middle" textLength="8.74" lengthAdjust="spacingAndGlyphs">20</text>
<line x1="272.8" y1="477.7" x2="272.8" y2="480.4" stroke="#1c1c1c" stroke-width="1.1" />
<text x="272.8" y="490.6" font-size="7.7" fill="#333333" text-anchor="middle" textLength="8.74" lengthAdjust="spacingAndGlyphs">40</text>
<line x1="317.7" y1="477.7" x2="317.7" y2="480.4" stroke="#1c1c1c" stroke-width="1.1" />
<text x="317.7" y="490.6" font-size="7.7" fill="#333333" text-anchor="middle" textLength="8.74" lengthAdjust="spacingAndGlyphs">60</text>
<text x="252.1" y="503.5" font-size="9.4" fill="#333333" text-anchor="middle" textLength="84.4" lengthAdjust="spacingAndGlyphs" stroke="#333333" stroke-width="0.15">Time after allo-HCT (days)</text>
<text transform="translate(158.4,431.3) rotate(-90)" font-size="9.4" fill="#333333" text-anchor="middle" textLength="38.8" lengthAdjust="spacingAndGlyphs" stroke="#333333" stroke-width="0.15">Survival [%]</text>
<path d="M183,388.45H207.69V392.91H241.37V401.84H245.86V406.3H261.57V410.76H270.56V415.23H275.05V419.69H299.74V431.29H317.7" stroke="#a90f37" stroke-width="1.5" fill="none" />
<path d="M183,388.45H200.96V397.38H207.69V406.3H212.19V419.69H236.88V428.61H241.37V442H252.59V450.93H263.82V455.39H266.06V459.85H268.31V464.31H270.56V468.77H295.25" stroke="#2c4e8a" stroke-width="1.5" fill="none" />
<circle cx="207.69" cy="392.91" r="2.6" fill="#a90f37" />
<circle cx="241.37" cy="401.84" r="2.6" fill="#a90f37" />
<circle cx="245.86" cy="406.3" r="2.6" fill="#a90f37" />
<circle cx="261.57" cy="410.76" r="2.6" fill="#a90f37" />
<circle cx="270.56" cy="415.23" r="2.6" fill="#a90f37" />
<circle cx="275.05" cy="419.69" r="2.6" fill="#a90f37" />
<circle cx="299.74" cy="431.29" r="2.6" fill="#a90f37" />
<circle cx="317.7" cy="431.29" r="2.6" fill="#a90f37" />
<circle cx="295.25" cy="419.69" r="2.6" fill="#a90f37" />
<rect x="198.51" y="394.93" width="4.9" height="4.9" fill="#2c4e8a" />
<rect x="205.25" y="403.85" width="4.9" height="4.9" fill="#2c4e8a" />
<rect x="209.74" y="417.24" width="4.9" height="4.9" fill="#2c4e8a" />
<rect x="234.43" y="426.16" width="4.9" height="4.9" fill="#2c4e8a" />
<rect x="238.92" y="439.55" width="4.9" height="4.9" fill="#2c4e8a" />
<rect x="250.15" y="448.48" width="4.9" height="4.9" fill="#2c4e8a" />
<rect x="261.37" y="452.94" width="4.9" height="4.9" fill="#2c4e8a" />
<rect x="263.62" y="457.4" width="4.9" height="4.9" fill="#2c4e8a" />
<rect x="265.86" y="461.86" width="4.9" height="4.9" fill="#2c4e8a" />
<rect x="268.11" y="466.32" width="4.9" height="4.9" fill="#2c4e8a" />
<rect x="292.8" y="466.32" width="4.9" height="4.9" fill="#2c4e8a" />
<path d="M321.2,430.6H324.5V471.2H321.2" stroke="#1a1a1a" stroke-width="1.1" fill="none" />
<path d="M329,448.94L329,452.06M330.35,449.72L327.65,451.28M330.35,451.28L327.65,449.72" stroke="#222" stroke-width="0.55" fill="none" />
<circle cx="329" cy="450.5" r="1.1" fill="#222" />
<path d="M332.2,448.94L332.2,452.06M333.55,449.72L330.85,451.28M333.55,451.28L330.85,449.72" stroke="#222" stroke-width="0.55" fill="none" />
<circle cx="332.2" cy="450.5" r="1.1" fill="#222" />
<path d="M335.4,448.94L335.4,452.06M336.75,449.72L334.05,451.28M336.75,451.28L334.05,449.72" stroke="#222" stroke-width="0.55" fill="none" />
<circle cx="335.4" cy="450.5" r="1.1" fill="#222" />
<line x1="200.4" y1="369" x2="211.2" y2="369" stroke="#2c4e8a" stroke-width="1.5" />
<rect x="203.3" y="366.5" width="4.8" height="5" fill="#2c4e8a" />
<line x1="200.4" y1="379.6" x2="211.2" y2="379.6" stroke="#a90f37" stroke-width="1.5" />
<circle cx="205.8" cy="379.6" r="2.6" fill="#a90f37" />
<text x="216.7" y="371.8" font-size="7.4" fill="#333333" textLength="64.7" lengthAdjust="spacingAndGlyphs">Solvent Ctrl (n=20)</text>
<text x="216.7" y="382.4" font-size="7.4" fill="#333333" textLength="59.8" lengthAdjust="spacingAndGlyphs">Aztreonam (n=20)</text>
<text x="349.5" y="360.9" font-size="11.8" fill="#111" font-weight="bold" stroke="#111" stroke-width="0.35">H</text>
<path d="M384.4,383.9V477.6H462" stroke="#1c1c1c" stroke-width="1.6" fill="none" />
<line x1="381.4" y1="477.6" x2="384.4" y2="477.6" stroke="#1c1c1c" stroke-width="1.2" />
<text x="378.2" y="480.3" font-size="7.7" fill="#333333" text-anchor="end" textLength="4.37" lengthAdjust="spacingAndGlyphs">0</text>
<line x1="381.4" y1="447.25" x2="384.4" y2="447.25" stroke="#1c1c1c" stroke-width="1.2" />
<text x="378.2" y="449.95" font-size="7.7" fill="#333333" text-anchor="end" textLength="4.37" lengthAdjust="spacingAndGlyphs">1</text>
<line x1="381.4" y1="416.9" x2="384.4" y2="416.9" stroke="#1c1c1c" stroke-width="1.2" />
<text x="378.2" y="419.6" font-size="7.7" fill="#333333" text-anchor="end" textLength="4.37" lengthAdjust="spacingAndGlyphs">2</text>
<line x1="381.4" y1="386.55" x2="384.4" y2="386.55" stroke="#1c1c1c" stroke-width="1.2" />
<text x="378.2" y="389.25" font-size="7.7" fill="#333333" text-anchor="end" textLength="4.37" lengthAdjust="spacingAndGlyphs">3</text>
<rect x="391.2" y="447.8" width="24.5" height="29.2" fill="#2c4e8a" />
<rect x="430" y="410" width="24.5" height="67" fill="#ab0330" />
<path d="M397.9,443.6H409.1M403.5,443.6V452.1M397.9,452.1H409.1" stroke="#1a1a1a" stroke-width="1.2" fill="none" />
<path d="M436.6,399.9H447.8M442.2,399.9V419.7M436.6,419.7H447.8" stroke="#1a1a1a" stroke-width="1.2" fill="none" />
<line x1="403.8" y1="477.6" x2="403.8" y2="480.3" stroke="#1c1c1c" stroke-width="1.1" />
<line x1="442.4" y1="477.6" x2="442.4" y2="480.3" stroke="#1c1c1c" stroke-width="1.1" />
<path d="M403.3,394V390.4H439.6V394" stroke="#1a1a1a" stroke-width="1.1" fill="none" />
<path d="M419.8,385.44L419.8,388.56M421.15,386.22L418.45,387.78M421.15,387.78L418.45,386.22" stroke="#222" stroke-width="0.55" fill="none" />
<circle cx="419.8" cy="387" r="1.1" fill="#222" />
<path d="M423,385.44L423,388.56M424.35,386.22L421.65,387.78M424.35,387.78L421.65,386.22" stroke="#222" stroke-width="0.55" fill="none" />
<circle cx="423" cy="387" r="1.1" fill="#222" />
<text transform="translate(357,430.6) rotate(-90)" font-size="9" fill="#333333" text-anchor="middle" textLength="93.4" lengthAdjust="spacingAndGlyphs" stroke="#333333" stroke-width="0.15">Absolute counts neutrophils</text>
<text transform="translate(368.4,430.8) rotate(-90)" font-size="9" fill="#333333" text-anchor="middle" textLength="43.6" lengthAdjust="spacingAndGlyphs" stroke="#333333" stroke-width="0.15">[fold change]</text>
<rect x="385.5" y="490.8" width="8.3" height="6.2" fill="#2c4e8a" />
<rect x="385.5" y="501.3" width="8.3" height="6.2" fill="#ab0330" />
<text x="397" y="496.6" font-size="7.4" fill="#333333" textLength="56.8" lengthAdjust="spacingAndGlyphs">Untreated (n=10)</text>
<text x="397" y="507.1" font-size="7.4" fill="#333333" textLength="63.5" lengthAdjust="spacingAndGlyphs">Doxorubicin (n=10)</text>
<rect x="0" y="0" width="520" height="0.9" fill="#000" />
<rect x="0" y="0" width="1.1" height="516" fill="#000" />
<rect x="518.5" y="0" width="1.5" height="516" fill="#000" />
<rect x="0" y="514.5" width="520" height="1.5" fill="#000" />
</svg>
</body></html>
